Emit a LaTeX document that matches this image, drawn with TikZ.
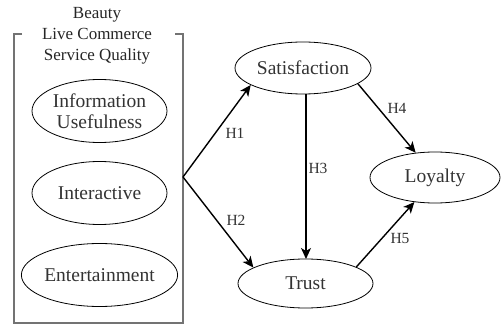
\documentclass[tikz,border=0pt]{standalone}
\usepackage{fontspec}
\setmainfont{Liberation Serif}
\usetikzlibrary{arrows.meta,shapes.geometric}
\begin{document}
\begin{tikzpicture}[x=1pt,y=-1pt,
  ell/.style={draw=black,line width=0.8pt,ellipse,inner sep=0pt,font=\fontsize{19.5}{21}\selectfont,text=black!80},
  arr/.style={line width=1.4pt,-{Stealth[length=11pt,width=10pt,inset=3pt]}},
  hlab/.style={font=\fontsize{15.5}{17}\selectfont,text=black!80,inner sep=0pt},
  framebox/.style={draw=black!55,line width=1.2pt}]
\useasboundingbox (0,0) rectangle (501,326);
% title
\node[font=\fontsize{17}{21}\selectfont,align=center,text=black!85,inner sep=0pt] (title) at (97,35.5) {Beauty\\Live Commerce\\Service Quality};
% frame
\draw[framebox] (22,34) -- (14,34) -- (14,323) -- (183,323) -- (183,34) -- (175,34);
\coordinate (src) at (183,177);
% left ellipses
\node[ell,minimum width=135pt,minimum height=63pt,align=center] (info) at (99.5,111) {Information\\Usefulness};
\node[ell,minimum width=135pt,minimum height=63pt] (inter) at (99.5,193) {Interactive};
\node[ell,minimum width=135pt,minimum height=63pt] (ent) at (99.5,275) {Entertainment};
% right ellipses
\node[ell,minimum width=136pt,minimum height=52pt] (sat) at (303,68) {Satisfaction};
\node[ell,minimum width=135pt,minimum height=49pt] (trust) at (305.5,283.5) {Trust};
\node[ell,minimum width=130pt,minimum height=51pt] (loy) at (435,177.5) {Loyalty};
% arrows
\draw[arr] (src) -- (sat.198);
\draw[arr] (src) -- (trust.163);
\draw[arr] (sat.south -| 306,0) -- (306,259);
\draw[arr] (sat.-16) -- (loy.128);
\draw[arr] (trust.18) -- (loy.230);
% labels
\node[hlab] (h1) at (235,133) {H1};
\node[hlab] (h2) at (236,220) {H2};
\node[hlab] (h3) at (318,168) {H3};
\node[hlab] (h4) at (397,108) {H4};
\node[hlab] (h5) at (400,239) {H5};
\end{tikzpicture}
\end{document}
